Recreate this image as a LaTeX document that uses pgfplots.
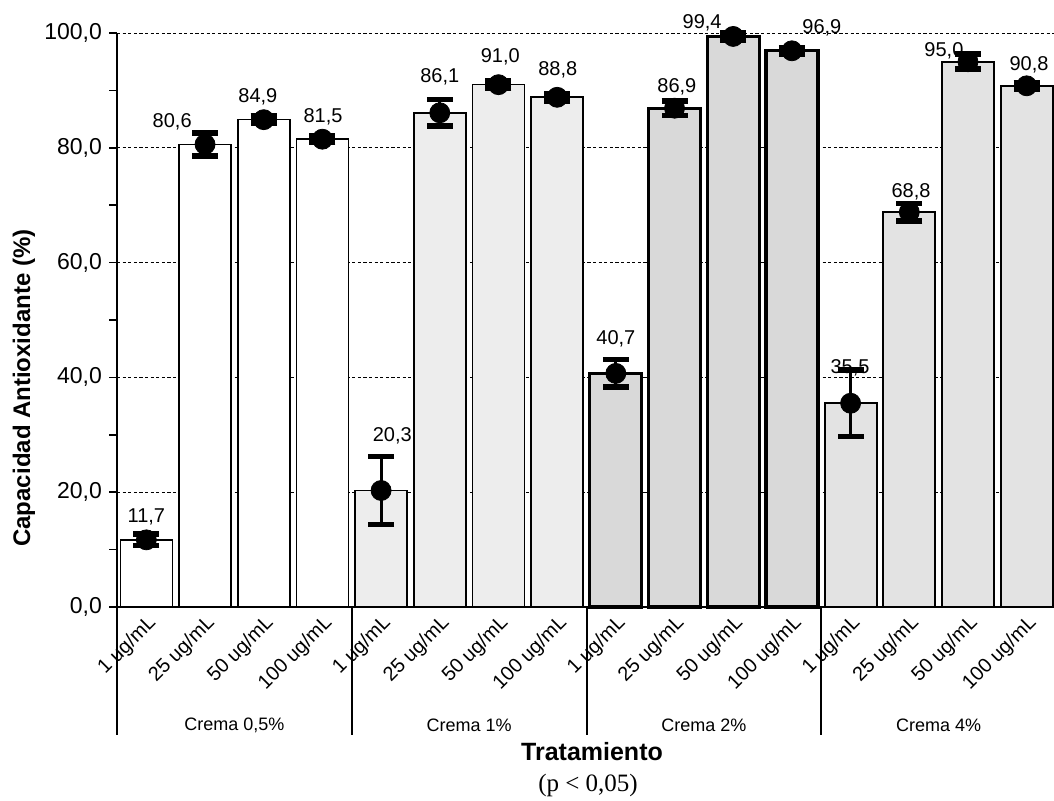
\documentclass[border=0pt]{standalone}
\usepackage{pgfplots}
\pgfplotsset{compat=1.18}
\usepackage{fontspec}
\setmainfont{Liberation Sans}
\newfontfamily\seriffont{Liberation Serif}
\pgfplotstableread{
x y err
0 11.7 1.0
1 80.6 2.0
2 84.9 0.6
3 81.5 0.6
4 20.3 5.9
5 86.1 2.3
6 91.0 0.6
7 88.8 0.6
8 40.7 2.4
9 86.9 1.3
10 99.4 0.6
11 96.9 0.6
12 35.5 5.8
13 68.8 1.5
14 95.0 1.3
15 90.8 0.6
}\datatable
\pgfplotstableread{
x y
0 11.7
1 80.6
2 84.9
3 81.5
}\groupA
\pgfplotstableread{
x y
4 20.3
5 86.1
6 91.0
7 88.8
}\groupB
\pgfplotstableread{
x y
8 40.7
9 86.9
10 99.4
11 96.9
}\groupC
\pgfplotstableread{
x y
12 35.5
13 68.8
14 95.0
15 90.8
}\groupD
\pgfplotstableread{
x y v
0.00 15.7 11.7
0.44 84.5 80.6
1.90 88.9 84.9
3.01 85.4 81.5
4.19 29.8 20.3
5.00 92.3 86.1
6.03 95.8 91.0
7.01 93.6 88.8
8.00 46.7 40.7
9.04 90.6 86.9
9.47 101.7 99.4
11.51 100.9 96.9
11.99 41.6 35.5
13.03 72.3 68.8
13.59 96.9 95.0
15.04 94.4 90.8
}\labeltable
\begin{document}
\begin{tikzpicture}[x=1pt,y=1pt]
\useasboundingbox (0,0) rectangle (527,400);
\begin{axis}[
  at={(58.5pt,96.5pt)}, anchor=south west,
  scale only axis, width=469.5pt, height=287pt,
  xmin=-0.5, xmax=15.5, ymin=0, ymax=100,
  axis lines*=left,
  axis line style={line width=1pt},
  ytick={0,20,...,100}, minor ytick={10,30,...,90},
  tick align=outside,
  major tick length=4pt, minor tick length=4pt,
  tick style={black, line width=0.8pt},
  ymajorgrids, grid style={dash pattern=on 1.6pt off 1.2pt, black, line width=0.5pt},
  yticklabel style={font=\fontsize{11.5}{13}\selectfont, /pgf/number format/.cd, fixed, fixed zerofill, precision=1, use comma, assume math mode=true},
  xtick={0,...,15},
  xticklabels={1 ug/mL,25 ug/mL,50 ug/mL,100 ug/mL,1 ug/mL,25 ug/mL,50 ug/mL,100 ug/mL,1 ug/mL,25 ug/mL,50 ug/mL,100 ug/mL,1 ug/mL,25 ug/mL,50 ug/mL,100 ug/mL},
  x tick style={draw=none},
  xticklabel style={xshift=0pt, yshift=1pt, rotate=45, anchor=north east, inner sep=0pt, font=\fontsize{10}{12}\selectfont},
  clip=false,
]
\addplot[ybar, bar shift=0pt, bar width=26pt, draw=black, line width=0.8pt, fill=white]
  table[x=x,y=y] {\groupA};
\addplot[ybar, bar shift=0pt, bar width=26pt, draw=black, line width=0.8pt, fill=black!7]
  table[x=x,y=y] {\groupB};
\addplot[ybar, bar shift=0pt, bar width=26pt, draw=black, line width=1.6pt, fill=black!15]
  table[x=x,y=y] {\groupC};
\addplot[ybar, bar shift=0pt, bar width=26pt, draw=black, line width=1pt, fill=black!11]
  table[x=x,y=y] {\groupD};
\addplot[only marks, mark=*, mark size=5pt, black,
  error bars/.cd, y dir=both, y explicit,
  error bar style={line width=1.5pt, black},
  error mark options={rotate=90, mark size=6.5pt, line width=2.8pt, black}]
  table[x=x,y=y,y error=err] {\datatable};
\addplot[only marks, mark=none, nodes near coords, point meta=explicit,
  every node near coord/.append style={anchor=center, inner sep=0pt, font=\fontsize{10}{12}\selectfont, black,
    /pgf/number format/.cd, fixed, fixed zerofill, precision=1, use comma, assume math mode=true}]
  table[x=x,y=y,meta=v] {\labeltable};
\draw[line width=1pt] (axis cs:-0.5,0) -- ([yshift=-64pt]axis cs:-0.5,0);
\draw[line width=1pt] (axis cs:3.5,0) -- ([yshift=-64pt]axis cs:3.5,0);
\draw[line width=1pt] (axis cs:7.5,0) -- ([yshift=-64pt]axis cs:7.5,0);
\draw[line width=1pt] (axis cs:11.5,0) -- ([yshift=-64pt]axis cs:11.5,0);
\node[font=\fontsize{9}{11}\selectfont] at ([yshift=-59pt]axis cs:1.5,0) {Crema 0,5\%};
\node[font=\fontsize{9}{11}\selectfont] at ([yshift=-59pt]axis cs:5.5,0) {Crema 1\%};
\node[font=\fontsize{9}{11}\selectfont] at ([yshift=-59pt]axis cs:9.5,0) {Crema 2\%};
\node[font=\fontsize{9}{11}\selectfont] at ([yshift=-59pt]axis cs:13.5,0) {Crema 4\%};
\end{axis}
\node[rotate=90, font=\bfseries\fontsize{12}{14}\selectfont] at (12,206) {Capacidad Antioxidante (\%)};
\node[font=\bfseries\fontsize{12.5}{15}\selectfont] at (296,24) {Tratamiento};
\node[font=\seriffont\fontsize{12.5}{15}\selectfont] at (294,7.5) {(p < 0,05)};
\end{tikzpicture}
\end{document}
